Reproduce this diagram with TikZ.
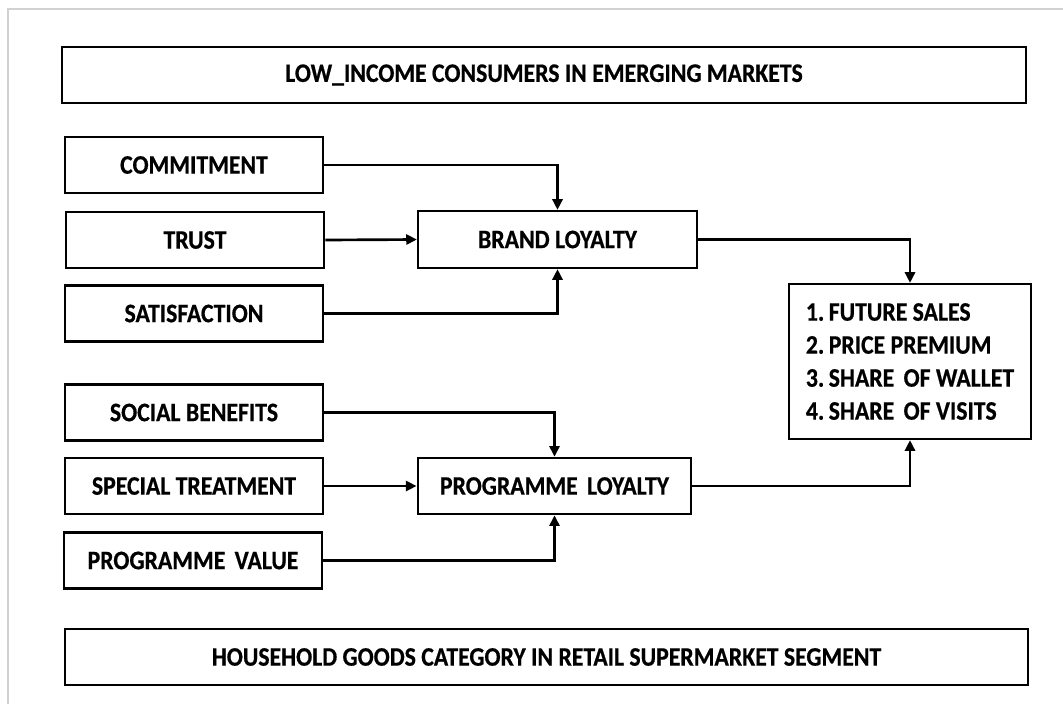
\documentclass[tikz,border=0pt]{standalone}
\usepackage{fontspec}
\setmainfont{Carlito}[FakeStretch=0.89, BoldFeatures={FakeBold=0.6}]
\usetikzlibrary{arrows.meta}
\tikzset{
  x=0.75pt, y=-0.75pt,
  box/.style={draw=black, line width=1.9pt, fill=white, inner sep=0pt,
    font=\fontsize{20pt}{24.75pt}\selectfont\bfseries, align=center},
  lbox/.style={box, minimum width=193.5pt, minimum height=42pt},
  arr/.style={line width=2pt, -{Triangle[length=8pt,width=7.5pt]}},
}
\begin{document}
\begin{tikzpicture}
\useasboundingbox[fill=white] (0,0) rectangle (1063,704);
\draw[gray!35, line width=0.9pt] (8,704) -- (8,9) -- (1063,9);

\node[box, minimum width=723pt, minimum height=42pt] (top) at (544,75) {LOW\_INCOME CONSUMERS IN EMERGING MARKETS};

\node[lbox] (commit) at (194,165) {COMMITMENT};
\node[lbox] (trust) at (195,240) {TRUST};
\node[lbox] (satis) at (194,313.5) {SATISFACTION};
\node[box, minimum width=209pt, minimum height=42.5pt] (brand) at (557.5,239.5) {BRAND LOYALTY};

\node[box, minimum width=181.5pt, minimum height=116pt, align=left] (out) at (910,361.5)
  {1.\hspace{-0.1em} FUTURE SALES\\2.\hspace{-0.1em} PRICE PREMIUM\\3.\hspace{-0.1em} SHARE\hspace{0.15em} OF WALLET\\4.\hspace{-0.1em} SHARE\hspace{0.15em} OF VISITS};

\node[lbox] (social) at (194,412.5) {SOCIAL BENEFITS};
\node[lbox] (special) at (194,486) {SPECIAL TREATMENT};
\node[lbox] (value) at (193,560.5) {PROGRAMME\hspace{0.15em} VALUE};
\node[box, minimum width=205pt, minimum height=42pt] (prog) at (554.5,486) {PROGRAMME\hspace{0.15em} LOYALTY};

\node[box, minimum width=722pt, minimum height=42pt] (bottom) at (546.5,657) {HOUSEHOLD GOODS CATEGORY IN RETAIL SUPERMARKET SEGMENT};

\draw[arr] (commit.east) -| (brand.north);
\draw[arr] (trust.east) -- (brand.west);
\draw[arr] (satis.east) -| (brand.south);
\draw[arr] (brand.east) -| (out.north);
\draw[arr] (social.east) -| (prog.north);
\draw[arr] (special.east) -- (prog.west);
\draw[arr] (value.east) -| (prog.south);
\draw[arr] (prog.east) -| (out.south);
\end{tikzpicture}
\end{document}
